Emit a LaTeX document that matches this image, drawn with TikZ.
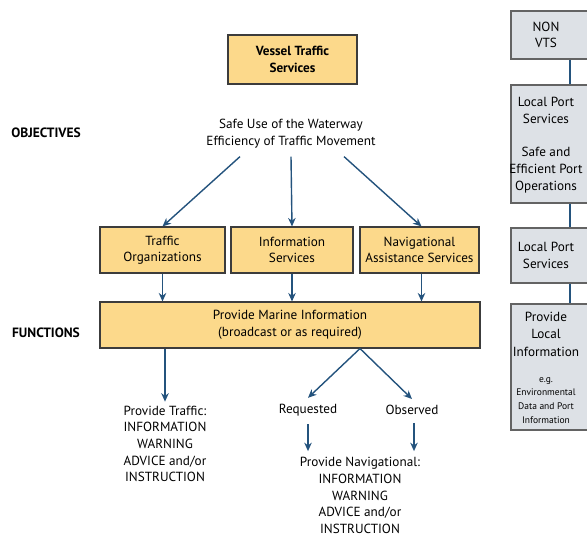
\documentclass[tikz,border=0pt]{standalone}
\usepackage{fontspec}
\setmainfont{PT Sans}
\usepackage{xcolor}
\usetikzlibrary{positioning,arrows.meta}

\definecolor{vtsfill}{HTML}{FCD98B}
\definecolor{nonfill}{HTML}{DDE1E6}
\definecolor{arrowblue}{HTML}{24537D}
\definecolor{edgegray}{HTML}{3C3C3C}

\begin{document}
\begin{tikzpicture}[
    x=1pt, y=1pt,
    base/.style={rectangle, draw=edgegray, line width=1.1pt, align=center,
                 inner sep=0pt, font=\fontsize{13.2}{16.5}\selectfont},
    Bvts/.style={base, fill=vtsfill},
    Bnon/.style={base, fill=nonfill, draw=edgegray!80, minimum width=150},
    txt/.style={align=center, inner sep=0pt, font=\fontsize{13.2}{16.7}\selectfont},
    smalltxt/.style={align=center, inner sep=0pt, font=\fontsize{9.5}{13.8}\selectfont},
    lbl/.style={inner sep=0pt, font=\fontsize{13.5}{15}\selectfont\bfseries},
    arr/.style={-{Stealth[length=8.5pt,width=7.5pt]}, line width=1.4pt, arrowblue},
    link/.style={line width=1.4pt, arrowblue},
]
\useasboundingbox (0,0) rectangle (587,-536);
\clip (0,0) rectangle (587,-536);

% top level
\node[Bvts, minimum width=129, minimum height=49, font=\fontsize{13.2}{16.5}\selectfont\bfseries]
    (vts) at (292.5,-59.5) {Vessel Traffic\\Services};

\node[lbl] (objlbl) at (46,-133) {OBJECTIVES};
\node[txt] (obj) at (291,-134) {Safe Use of the Waterway\\Efficiency of Traffic Movement};

% services
\node[Bvts, minimum width=125, minimum height=46] (traffic) at (162.5,-250) {Traffic\\Organizations};
\node[Bvts, minimum width=122, minimum height=46] (info)    at (292,-250)   {Information\\Services};
\node[Bvts, minimum width=119, minimum height=46] (nav)     at (419.5,-250) {Navigational\\Assistance Services};

% functions
\node[lbl] (fnlbl) at (46,-333) {FUNCTIONS};
\node[Bvts, minimum width=380, minimum height=46] (marine) at (290,-325)
    {Provide Marine Information\\(broadcast or as required)};

\node[txt] (ptraffic) at (165,-444)
    {Provide Traffic:\\INFORMATION\\WARNING\\ADVICE and/or\\INSTRUCTION};
\node[txt] (req) at (308,-410) {Requested};
\node[txt] (obs) at (412,-410) {Observed};
\node[txt] (pnav) at (360,-495.5)
    {Provide Navigational:\\INFORMATION\\WARNING\\ADVICE and/or\\INSTRUCTION};

% non VTS column
\node[Bnon, minimum height=48]  (nonvts) at (586,-35)    {};
\node[Bnon, minimum height=118] (lps)    at (586,-144)   {};
\node[Bnon, minimum height=55]  (lpsb)   at (586,-255.5) {};
\node[Bnon, minimum height=126] (pli)    at (586,-367)   {};
\node[txt] (nonvtstxt) at (546,-35) {NON\\VTS};
\node[txt] (lpstxt) at (546,-145) {Local Port\\Services\\[17pt]Safe and\\Efficient Port\\Operations};
\node[txt] (lpsbtxt) at (546,-255.5) {Local Port\\Services};
\node[txt, font=\fontsize{13.2}{17.5}\selectfont] (plitxt) at (546,-334)
    {Provide\\Local\\Information};
\node[smalltxt] (plismall) at (546,-400.5)
    {e.g.\\Environmental\\Data and Port\\Information};
\coordinate (lx) at (570,0);

% connectors
\draw[arr] ([xshift=-51,yshift=-8]obj.south) -- (traffic.north);
\draw[arr] ([yshift=-8]obj.south) -- (info.north);
\draw[arr] ([xshift=53,yshift=-8]obj.south) -- ([xshift=2]nav.north);
\draw[arr] (traffic) -- (traffic |- marine.north);
\draw[arr] (info) -- (info |- marine.north);
\draw[arr] ([xshift=2]nav.south) -- ([xshift=2]nav.south |- marine.north);
\draw[arr] (marine.south -| ptraffic) -- ([yshift=4]ptraffic.north);
\draw[arr] ([xshift=70]marine.south) -- ([yshift=6]req.north);
\draw[arr] ([xshift=70]marine.south) -- ([yshift=6]obs.north);
\draw[arr] ([yshift=-8]req.south) -- ([yshift=6]req.south |- pnav.north);
\draw[arr] ([xshift=2,yshift=-8]obs.south) -- ([xshift=2,yshift=6]obs.south |- pnav.north);
\draw[link] (nonvts.south -| lx) -- (lps.north -| lx);
\draw[link] (lps.south -| lx) -- (lpsb.north -| lx);
\draw[link] (lpsb.south -| lx) -- (pli.north -| lx);
\end{tikzpicture}
\end{document}
